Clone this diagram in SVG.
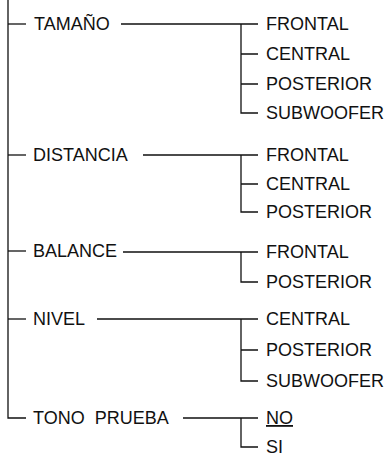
<svg xmlns="http://www.w3.org/2000/svg" width="388" height="454" viewBox="0 0 388 454">
<style>
text{font-family:"Liberation Sans",Arial,sans-serif;font-size:18px;fill:#111}
.c path,.c line{stroke:#111;stroke-width:1.3;fill:none}
</style>
<rect width="388" height="454" fill="#fff"/>
<g class="c" id="connectors">
<path d="M8 0V418H26"/>
<line x1="8" y1="24" x2="26" y2="24"/>
<line x1="8" y1="155" x2="26" y2="155"/>
<line x1="8" y1="251" x2="26" y2="251"/>
<line x1="8" y1="319" x2="26" y2="319"/>
<path d="M121 24H258M241 24V113H258M241 54H258M241 84H258"/>
<path d="M143 155H258M241 155V212H258M241 184H258"/>
<path d="M123 252H258M241 252V282H258"/>
<path d="M97 319H258M241 319V381H258M241 350H258"/>
<path d="M183 418H258M241 418V447H258"/>
</g>
<g id="tamano"><text x="34" y="30">TAMAÑO</text></g>
<g id="tamano-frontal"><text x="266" y="30">FRONTAL</text></g>
<g id="tamano-central"><text x="266" y="60">CENTRAL</text></g>
<g id="tamano-posterior"><text x="266" y="90">POSTERIOR</text></g>
<g id="tamano-subwoofer"><text x="266" y="119">SUBWOOFER</text></g>
<g id="distancia"><text x="33" y="161">DISTANCIA</text></g>
<g id="distancia-frontal"><text x="266" y="161">FRONTAL</text></g>
<g id="distancia-central"><text x="266" y="190">CENTRAL</text></g>
<g id="distancia-posterior"><text x="266" y="218">POSTERIOR</text></g>
<g id="balance"><text x="33" y="257">BALANCE</text></g>
<g id="balance-frontal"><text x="266" y="258">FRONTAL</text></g>
<g id="balance-posterior"><text x="266" y="288">POSTERIOR</text></g>
<g id="nivel"><text x="33" y="325">NIVEL</text></g>
<g id="nivel-central"><text x="266" y="325">CENTRAL</text></g>
<g id="nivel-posterior"><text x="266" y="356">POSTERIOR</text></g>
<g id="nivel-subwoofer"><text x="266" y="387">SUBWOOFER</text></g>
<g id="tono-prueba"><text x="33" y="424" xml:space="preserve">TONO  PRUEBA</text></g>
<g id="tono-no"><text x="266" y="424" text-decoration="underline">NO</text></g>
<g id="tono-si"><text x="266" y="453">SI</text></g>
</svg>
